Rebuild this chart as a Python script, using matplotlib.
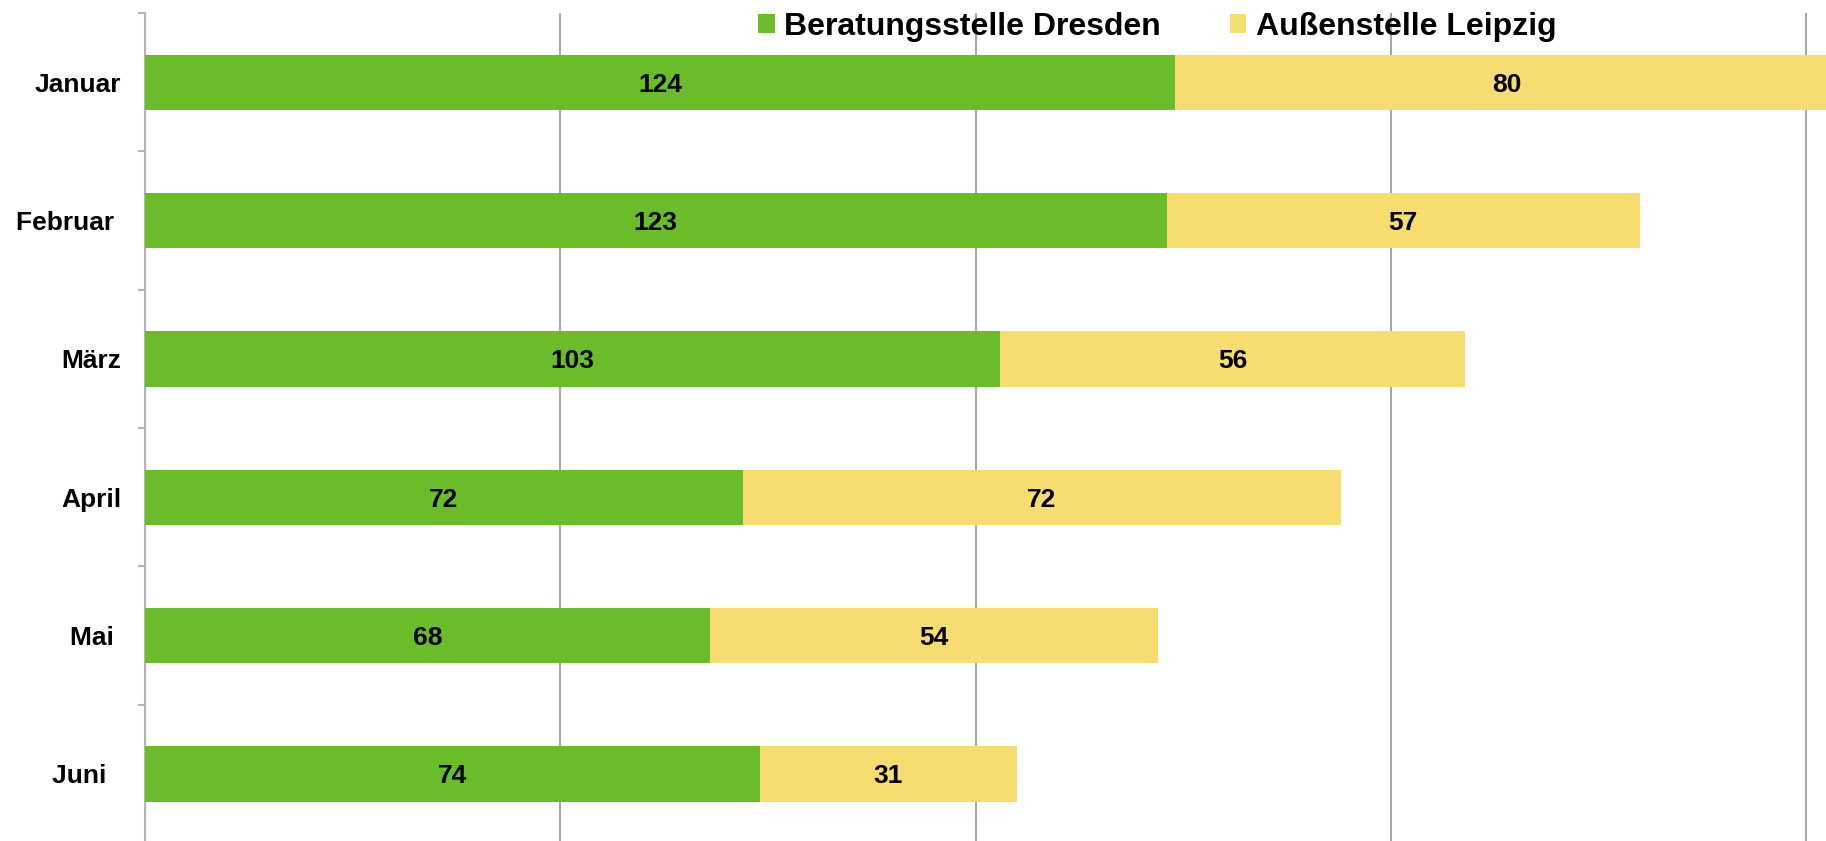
import numpy as np
import matplotlib
matplotlib.use('Agg')
import matplotlib.pyplot as plt

# data
months = ['Januar', 'Februar ', 'März', 'April', 'Mai ', 'Juni  ']
dresden = [124, 123, 103, 72, 68, 74]
leipzig = [80, 57, 56, 72, 54, 31]
series_names = ['Beratungsstelle Dresden', 'Außenstelle Leipzig']

green = '#6abd28'
yellow = '#f7dc6f'
gridgray = '#a6a6a6'

plt.rcParams['font.family'] = ['Liberation Sans', 'DejaVu Sans']
plt.rcParams['font.weight'] = 'bold'

W, H = 1826, 841
fig = plt.figure(figsize=(W/100, H/100), dpi=100)
ax = fig.add_axes([145/W, -2/H, 1-145/W, 830/H])

y = np.arange(len(months))
b1 = ax.barh(y, dresden, height=0.4, color=green, label=series_names[0], zorder=3)
b2 = ax.barh(y, leipzig, left=dresden, height=0.4, color=yellow, label=series_names[1], zorder=3)

# value labels in the middle of each segment
for bars in (b1, b2):
    for rect in bars:
        cx = rect.get_x() + rect.get_width()/2
        cy = rect.get_y() + rect.get_height()/2
        ax.text(cx, cy, '{:d}'.format(int(round(rect.get_width()))), ha='center',
                va='center_baseline', fontsize=19, fontweight='bold', color='black', zorder=4)

# axes
ax.set_xlim(0, 200*(W-145)/(1806-145))
ax.set_ylim(len(months)-0.5, -0.5)
ax.set_xticks([0, 50, 100, 150, 200])
ax.tick_params(axis='x', length=0, labelbottom=False)
ax.xaxis.grid(True, color=gridgray, linewidth=1.5, zorder=0)
ax.set_axisbelow(True)

ax.set_yticks(y)
ax.set_yticklabels(months, fontsize=19, fontweight='bold')
ax.set_yticks(np.arange(len(months)+1)-0.5, minor=True)
ax.tick_params(axis='y', which='major', length=0, pad=24*0.72)
ax.tick_params(axis='y', which='minor', length=7*0.72, width=1.5, color='#b4b4b4')

for side in ['top', 'right', 'bottom']:
    ax.spines[side].set_visible(False)
ax.spines['left'].set_color('#b4b4b4')
ax.spines['left'].set_linewidth(1.5)

# legend across the top
fig.legend(handles=[b1, b2], loc='center left', bbox_to_anchor=(758/W, 1-27/H),
           ncol=2, frameon=False, prop={'weight': 'bold', 'size': 23},
           handlelength=0.52, handleheight=0.52, handletextpad=0.3,
           columnspacing=2.15, borderpad=0, borderaxespad=0)

fig.savefig('out.png', dpi=100)
